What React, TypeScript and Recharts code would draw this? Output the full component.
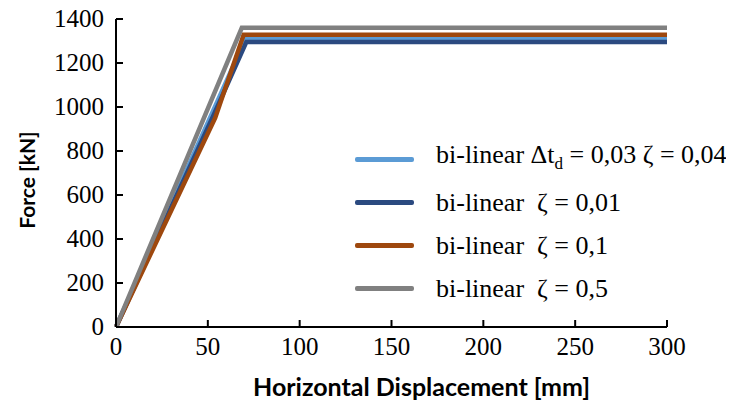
import { Legend, Line, LineChart, XAxis, YAxis, Label } from "recharts";

// displacement [mm] / force [kN]
const xTicks = [0, 50, 100, 150, 200, 250, 300];
const yTicks = [0, 200, 400, 600, 800, 1000, 1200, 1400];

const dispDtd = [0, 70.5, 300];
const forceDtd = [0, 1310, 1310];

const dispZ001 = [0, 53, 71, 300];
const forceZ001 = [0, 960, 1296, 1296];

const dispZ01 = [0, 54, 69.5, 300];
const forceZ01 = [0, 950, 1328, 1328];

const dispZ05 = [0, 68.5, 300];
const forceZ05 = [0, 1360, 1360];

const toPoints = (xs: number[], ys: number[]) => xs.map((x, i) => ({ x, y: ys[i] }));

const series = [
  { key: "dtd", color: "#5B9BD5", data: toPoints(dispDtd, forceDtd) },
  { key: "z001", color: "#2B4A80", data: toPoints(dispZ001, forceZ001) },
  { key: "z01", color: "#9E480E", data: toPoints(dispZ01, forceZ01) },
  { key: "z05", color: "#808080", data: toPoints(dispZ05, forceZ05) },
];

const serif = "'Liberation Serif', 'Times New Roman', serif";
const sans = "Lato, sans-serif";

function YTick(props: any) {
  const { x, y, payload } = props;
  return (
    <g>
      <path d={`M${x},${y}h7`} stroke="#000" strokeWidth={2} fill="none" />
      <text x={x - 12} y={y + 8} textAnchor="end" fontSize={25} fill="#000" stroke="none" style={{ fontFamily: serif }}>
        {payload.value}
      </text>
    </g>
  );
}

function XTick(props: any) {
  const { x, y, payload } = props;
  return (
    <g>
      <path d={`M${x},${y}v-7`} stroke="#000" strokeWidth={2} fill="none" />
      <text x={x} y={y + 28} textAnchor="middle" fontSize={25} fill="#000" stroke="none" style={{ fontFamily: serif }}>
        {payload.value}
      </text>
    </g>
  );
}

function LegendBox() {
  const label = (i: number) => {
    if (i === 0)
      return (
        <>
          bi-linear Δt<sub style={{ fontSize: 17 }}>d</sub> = 0,03 ζ = 0,04
        </>
      );
    if (i === 1) return "bi-linear  ζ = 0,01";
    if (i === 2) return "bi-linear  ζ = 0,1";
    return "bi-linear  ζ = 0,5";
  };
  return (
    <div style={{ fontFamily: serif, fontSize: 26, color: "#000" }}>
      {series.map((s, i) => (
        <div key={s.key} style={{ display: "flex", alignItems: "center", height: 43, whiteSpace: "pre" }}>
          <span style={{ display: "inline-block", width: 59, height: 4.5, background: s.color, borderRadius: 2, marginRight: 22 }} />
          <span style={{ lineHeight: "26px" }}>{label(i)}</span>
        </div>
      ))}
    </div>
  );
}

export default function App() {
  return (
    <LineChart width={726} height={395} margin={{ top: 11, right: 67, bottom: 0, left: 0 }}>
      <XAxis
        type="number"
        dataKey="x"
        domain={[0, 300]}
        ticks={xTicks}
        tick={(p: any) => <XTick {...p} />}
        tickLine={false}
        tickSize={0}
        tickMargin={0}
        axisLine={{ stroke: "#000", strokeWidth: 2 }}
        height={76}
        allowDuplicatedCategory={false}
      >
        <Label
          content={({ viewBox }: any) => (
            <text
              x={viewBox.x + viewBox.width / 2 + 30}
              y={viewBox.y + 59}
              textAnchor="middle"
              dominantBaseline="central"
              fontFamily={sans}
              fontWeight="bold"
              fontSize={25}
              fill="#000"
            >
              Horizontal Displacement [mm]
            </text>
          )}
        />
      </XAxis>
      <YAxis
        type="number"
        dataKey="y"
        domain={[0, 1400]}
        ticks={yTicks}
        tick={(p: any) => <YTick {...p} />}
        tickLine={false}
        tickSize={0}
        tickMargin={0}
        axisLine={{ stroke: "#000", strokeWidth: 2 }}
        width={108}
      >
        <Label
          content={({ viewBox }: any) => (
            <text
              x={18}
              y={viewBox.y + viewBox.height / 2 + 7}
              textAnchor="middle"
              dominantBaseline="central"
              fontFamily={sans}
              fontWeight="bold"
              fontSize={21}
              fill="#000"
              transform={`rotate(-90 18 ${viewBox.y + viewBox.height / 2 + 7})`}
            >
              Force [kN]
            </text>
          )}
        />
      </YAxis>
      <Legend
        layout="vertical"
        align="center"
        verticalAlign="middle"
        content={<LegendBox />}
        wrapperStyle={{ left: 347, top: 130, width: 380 }}
      />
      {series.map((s) => (
        <Line
          key={s.key}
          data={s.data}
          dataKey="y"
          type="linear"
          stroke={s.color}
          strokeWidth={4.5}
          dot={false}
          activeDot={false}
          isAnimationActive={false}
        />
      ))}
    </LineChart>
  );
}
